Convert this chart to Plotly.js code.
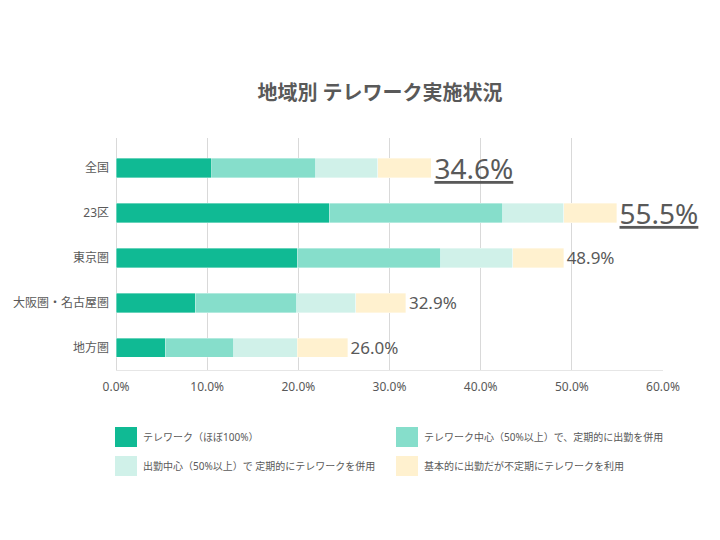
<!DOCTYPE html>
<html>
<head>
<meta charset="utf-8">
<script src="https://cdn.plot.ly/plotly-3.0.1.min.js"></script>
<style>html,body{margin:0;padding:0;background:#fff;}#chart{width:720px;height:540px;}</style>
</head>
<body>
<div id="chart"></div>
<script>
// ---- data ----
const categories = ['全国', '23区', '東京圏', '大阪圏・名古屋圏', '地方圏'];
const seriesNames = [
  'テレワーク（ほぼ100%）',
  'テレワーク中心（50%以上）で、定期的に出勤を併用',
  '出勤中心（50%以上）で 定期的にテレワークを併用',
  '基本的に出勤だが不定期にテレワークを利用'
];
const fullRemote   = [10.5, 23.4, 19.9, 8.7, 5.4];
const remoteMain   = [11.4, 19.0, 15.7, 11.1, 7.5];
const officeMain   = [6.8, 6.7, 7.9, 6.5, 7.0];
const irregular    = [5.9, 5.8, 5.6, 5.5, 5.5];
const totalLabels  = ['34.6%', '55.5%', '48.9%', '32.9%', '26.0%'];
const highlighted  = [true, true, false, false, false];
const xTickVals    = [0, 10, 20, 30, 40, 50, 60];
const xTickText    = ['0.0%', '10.0%', '20.0%', '30.0%', '40.0%', '50.0%', '60.0%'];

// ---- style ----
const colors = ['#10BA94', '#86DECB', '#D0F1E9', '#FFF1CF'];
const textColor = '#595959';
const fontFamily = 'Noto Sans, Noto Sans CJK JP, sans-serif';
const W = 720, H = 540;
const M = {l: 116, r: 57, t: 138, b: 170};
const pw = W - M.l - M.r, ph = H - M.t - M.b;
const px = x => (x - M.l) / pw;
const py = y => (H - M.b - y) / ph;

const values = [fullRemote, remoteMain, officeMain, irregular];
const traces = values.map((v, i) => {
  const t = {
    type: 'bar',
    orientation: 'h',
    name: seriesNames[i],
    y: categories,
    x: v,
    marker: {color: colors[i], line: {color: 'rgba(255,255,255,0.6)', width: 0.6}},
    hoverinfo: 'skip',
    showlegend: false
  };
  if (i === values.length - 1) {
    t.text = totalLabels.map((s, k) => highlighted[k] ? '<u>' + s + '</u>' : s);
    t.textposition = 'outside';
    t.textangle = 0;
    t.constraintext = 'none';
    t.cliponaxis = false;
    t.textfont = {family: fontFamily, color: textColor, size: highlighted.map(h => h ? 28 : 17)};
  }
  return t;
});

// custom legend (2 columns)
const legendCols = [115, 396];
const legendRows = [437, 466];
const shapes = [], annotations = [];
seriesNames.forEach((name, i) => {
  const cx = legendCols[i % 2], cy = legendRows[Math.floor(i / 2)];
  shapes.push({
    type: 'rect', xref: 'paper', yref: 'paper',
    x0: px(cx), x1: px(cx + 22), y0: py(cy + 10), y1: py(cy - 10),
    fillcolor: colors[i], line: {width: 0}
  });
  annotations.push({
    xref: 'paper', yref: 'paper', x: px(cx + 26), y: py(cy),
    xanchor: 'left', yanchor: 'middle', showarrow: false,
    text: name, font: {family: fontFamily, size: 10, color: textColor}
  });
});

const layout = {
  width: W, height: H,
  margin: M,
  paper_bgcolor: '#fff', plot_bgcolor: '#fff',
  font: {family: fontFamily, color: textColor},
  title: {
    text: '地域別 テレワーク実施状況',
    xref: 'container', yref: 'container',
    x: 380 / W, xanchor: 'center', y: 1 - 93 / H, yanchor: 'middle',
    font: {family: fontFamily, size: 20, color: textColor, weight: 700}
  },
  barmode: 'stack',
  bargap: 0.57,
  xaxis: {
    range: [0, 60],
    tickvals: xTickVals, ticktext: xTickText,
    showgrid: true, gridcolor: '#d9d9d9', gridwidth: 1,
    zeroline: true, zerolinecolor: '#d9d9d9', zerolinewidth: 1,
    showline: true, linecolor: '#e6e6e6', linewidth: 1,
    ticks: '', ticklabelstandoff: 6,
    tickfont: {family: fontFamily, size: 12, color: textColor},
    fixedrange: true
  },
  yaxis: {
    type: 'category',
    range: [4.494, -0.667],
    showgrid: false, zeroline: false, showline: false,
    ticks: '', ticklabelstandoff: 6,
    tickfont: {family: fontFamily, size: 12, color: textColor},
    fixedrange: true
  },
  shapes: shapes,
  annotations: annotations,
  showlegend: false
};

Plotly.newPlot('chart', traces, layout, {displayModeBar: false, staticPlot: true});
</script>
</body>
</html>
